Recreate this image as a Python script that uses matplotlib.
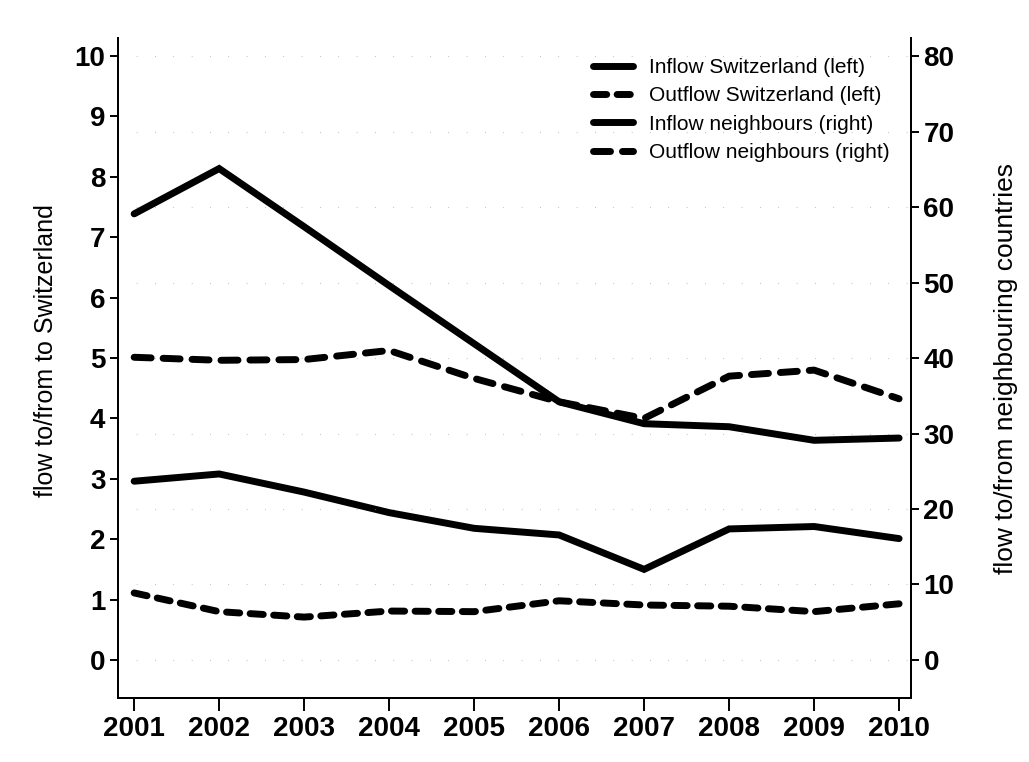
import matplotlib
matplotlib.use("Agg")
import matplotlib.pyplot as plt

plt.rcParams["font.family"] = ["Liberation Sans", "DejaVu Sans"]

years = list(range(2001, 2011))

# Switzerland flows (left axis)
inflow_ch = [2.96, 3.08, 2.78, 2.44, 2.18, 2.07, 1.50, 2.17, 2.21, 2.01]
outflow_ch = [1.11, 0.80, 0.71, 0.81, 0.80, 0.98, 0.91, 0.89, 0.80, 0.93]

# neighbouring countries flows (right axis)
inflow_nb = [59.1, 65.1, 57.4, 49.6, 41.9, 34.2, 31.3, 30.9, 29.1, 29.4]
outflow_nb = [40.1, 39.7, 39.8, 41.0, 37.3, 34.2, 32.0, 37.6, 38.4, 34.6]

left_ticks = list(range(0, 11))
right_ticks = list(range(0, 81, 10))

W, H = 1029, 762
fig = plt.figure(figsize=(W / 100, H / 100), dpi=100)
ax = fig.add_axes([118 / W, 1 - 698 / H, (911 - 118) / W, (698 - 38) / H])
ax2 = ax.twinx()

ymin, ymax = -0.63, 10.3
ax.set_ylim(ymin, ymax)
ax2.set_ylim(ymin * 8, ymax * 8)
ax.set_xlim(2000.81, 2010.14)

# sparse dotted grid following the right-hand scale
for v in right_ticks:
    ax2.axhline(v, color="#999999", lw=0.8, ls=(0, (0.5, 16)), zorder=0)

lw = 5
l1, = ax.plot(years, inflow_ch, color="black", lw=lw, solid_capstyle="round",
              solid_joinstyle="miter", label="Inflow Switzerland (left)")
l2, = ax.plot(years, outflow_ch, color="black", lw=lw, dashes=(1.9, 1.5),
              dash_capstyle="round", label="Outflow Switzerland (left)")
l3, = ax2.plot(years, inflow_nb, color="black", lw=lw, solid_capstyle="round",
               solid_joinstyle="miter", label="Inflow neighbours (right)")
l4, = ax2.plot(years, outflow_nb, color="black", lw=lw, dashes=(2.45, 1.72),
               dash_capstyle="round", label="Outflow neighbours (right)")

ax.set_xticks(years)
ax.set_xticklabels([str(y) for y in years])
ax.set_yticks(left_ticks)
ax2.set_yticks(right_ticks)

for a in (ax, ax2):
    a.spines["top"].set_visible(False)
    for s in a.spines.values():
        s.set_linewidth(1.4)
    a.tick_params(width=1.4, length=6, labelsize=20, pad=3)
    for t in a.get_xticklabels() + a.get_yticklabels():
        t.set_fontweight("bold")
ax.tick_params(axis="x", length=9, labelsize=20, pad=4)

ax.set_ylabel("flow to/from to Switzerland", fontsize=18)
ax.yaxis.set_label_coords(-0.076, 0.526)
ax2.set_ylabel("flow to/from neighbouring countries", fontsize=19)
ax2.yaxis.set_label_coords(1.105, 0.5)

fig.legend(handles=[l1, l2, l3, l4], loc="upper left",
           bbox_to_anchor=(593 / W, 1 - 58 / H), frameon=False, fontsize=15,
           borderpad=0, borderaxespad=0, handlelength=1.9, handletextpad=0.77,
           labelspacing=0.45)

fig.savefig("out.png", dpi=100)
